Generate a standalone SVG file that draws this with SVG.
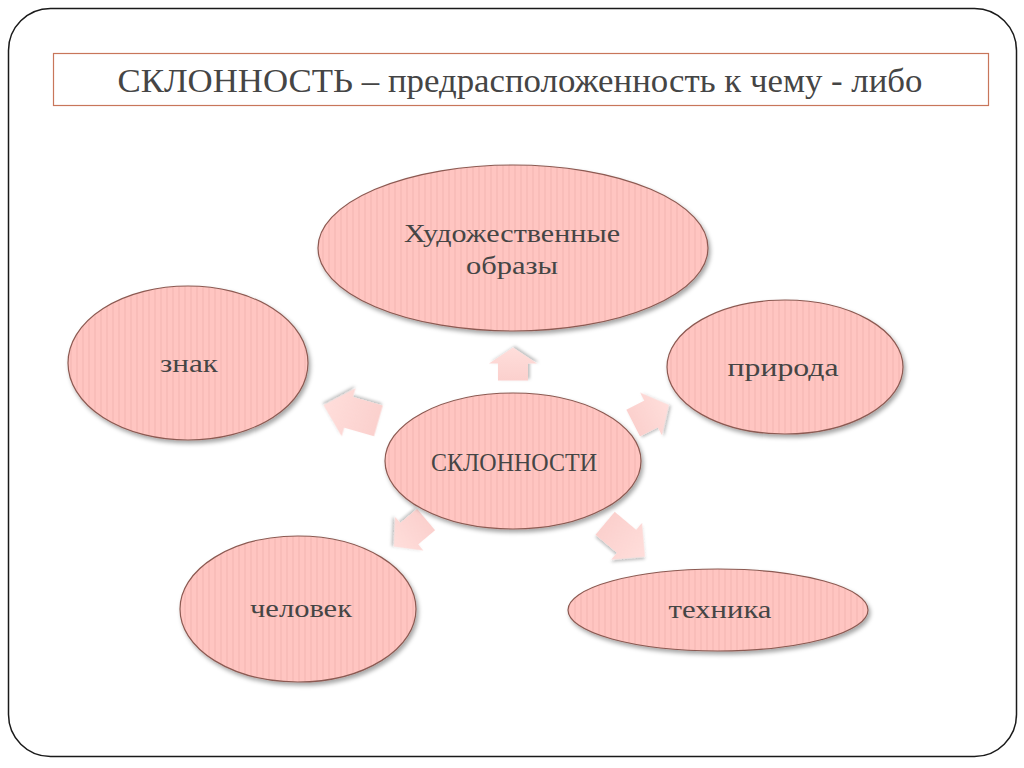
<svg xmlns="http://www.w3.org/2000/svg" width="1024" height="768" viewBox="0 0 1024 768">
<defs>
<pattern id="stripes" width="6" height="10" patternUnits="userSpaceOnUse">
<rect width="6" height="10" fill="#ffc5c1"/>
<rect x="4" width="2" height="10" fill="#f9bdb9"/>
</pattern>
<linearGradient id="arrowFill" x1="0" y1="0" x2="1" y2="0">
<stop offset="0" stop-color="#fbd0cd"/>
<stop offset="1" stop-color="#ffdedb"/>
</linearGradient>
<filter id="shadow" x="-20%" y="-20%" width="140%" height="140%">
<feDropShadow dx="2" dy="3" stdDeviation="2" flood-color="#000" flood-opacity="0.35"/>
</filter>
<filter id="ashadow" x="-30%" y="-30%" width="160%" height="160%">
<feDropShadow dx="1.5" dy="2" stdDeviation="1.5" flood-color="#000" flood-opacity="0.25"/>
</filter>
</defs>
<style>
.node ellipse { fill: url(#stripes); stroke: #8c5a52; stroke-width: 1.2; filter: url(#shadow); }
.lbl { font-family: "Liberation Serif", "DejaVu Serif", serif; font-size: 25px; fill: #454545; text-anchor: middle; }
.arr { fill: url(#arrowFill); filter: url(#ashadow); }
</style>
<rect width="1024" height="768" fill="#ffffff"/>
<rect x="8.5" y="8.5" width="1008" height="748" rx="42" ry="42" fill="#ffffff" stroke="#1a1a1a" stroke-width="1.5"/>
<g id="title">
<rect x="53.5" y="53.5" width="935" height="52" fill="#ffffff" stroke="#c8765a" stroke-width="1.2"/>
<text x="520" y="92" font-family="Liberation Serif, DejaVu Serif, serif" font-size="33" fill="#454545" text-anchor="middle" textLength="805" lengthAdjust="spacingAndGlyphs">СКЛОННОСТЬ – предрасположенность к чему - либо</text>
</g>
<g id="connectors">
<polygon class="arr" transform="translate(513,364) rotate(-90)" points="-16.5,-15 0.5,-15 0.5,-24 16.5,0 0.5,24 0.5,15 -16.5,15"/>
<polygon class="arr" transform="translate(351,413) rotate(196)" points="-28.5,-16 2.5,-16 2.5,-25 28.5,0 2.5,25 2.5,16 -28.5,16"/>
<polygon class="arr" transform="translate(651,414) rotate(-27)" points="-20,-15 0,-15 0,-24 20,0 0,24 0,15 -20,15"/>
<polygon class="arr" transform="translate(410,533) rotate(140)" points="-21,-14 1,-14 1,-22 21,0 1,22 1,14 -21,14"/>
<polygon class="arr" transform="translate(625,540) rotate(40)" points="-26,-15 2,-15 2,-24 26,0 2,24 2,15 -26,15"/>
</g>
<g id="node-top" class="node">
<ellipse cx="513" cy="248" rx="195" ry="83"/>
<text class="lbl" x="512" y="242" textLength="216" lengthAdjust="spacingAndGlyphs">Художественные</text>
<text class="lbl" x="512" y="274" textLength="92" lengthAdjust="spacingAndGlyphs">образы</text>
</g>
<g id="node-znak" class="node">
<ellipse cx="188" cy="363" rx="120" ry="77"/>
<text class="lbl" x="189" y="372" textLength="58" lengthAdjust="spacingAndGlyphs">знак</text>
</g>
<g id="node-priroda" class="node">
<ellipse cx="785" cy="367" rx="118" ry="67"/>
<text class="lbl" x="783" y="376" textLength="111" lengthAdjust="spacingAndGlyphs">природа</text>
</g>
<g id="node-center" class="node">
<ellipse cx="513" cy="461" rx="128" ry="68"/>
<text class="lbl" x="514" y="471" textLength="166" lengthAdjust="spacingAndGlyphs">СКЛОННОСТИ</text>
</g>
<g id="node-chelovek" class="node">
<ellipse cx="298" cy="609" rx="118" ry="73"/>
<text class="lbl" x="301" y="617" textLength="102" lengthAdjust="spacingAndGlyphs">человек</text>
</g>
<g id="node-tehnika" class="node">
<ellipse cx="718" cy="610" rx="150" ry="41"/>
<text class="lbl" x="720" y="618" textLength="103" lengthAdjust="spacingAndGlyphs">техника</text>
</g>
</svg>
